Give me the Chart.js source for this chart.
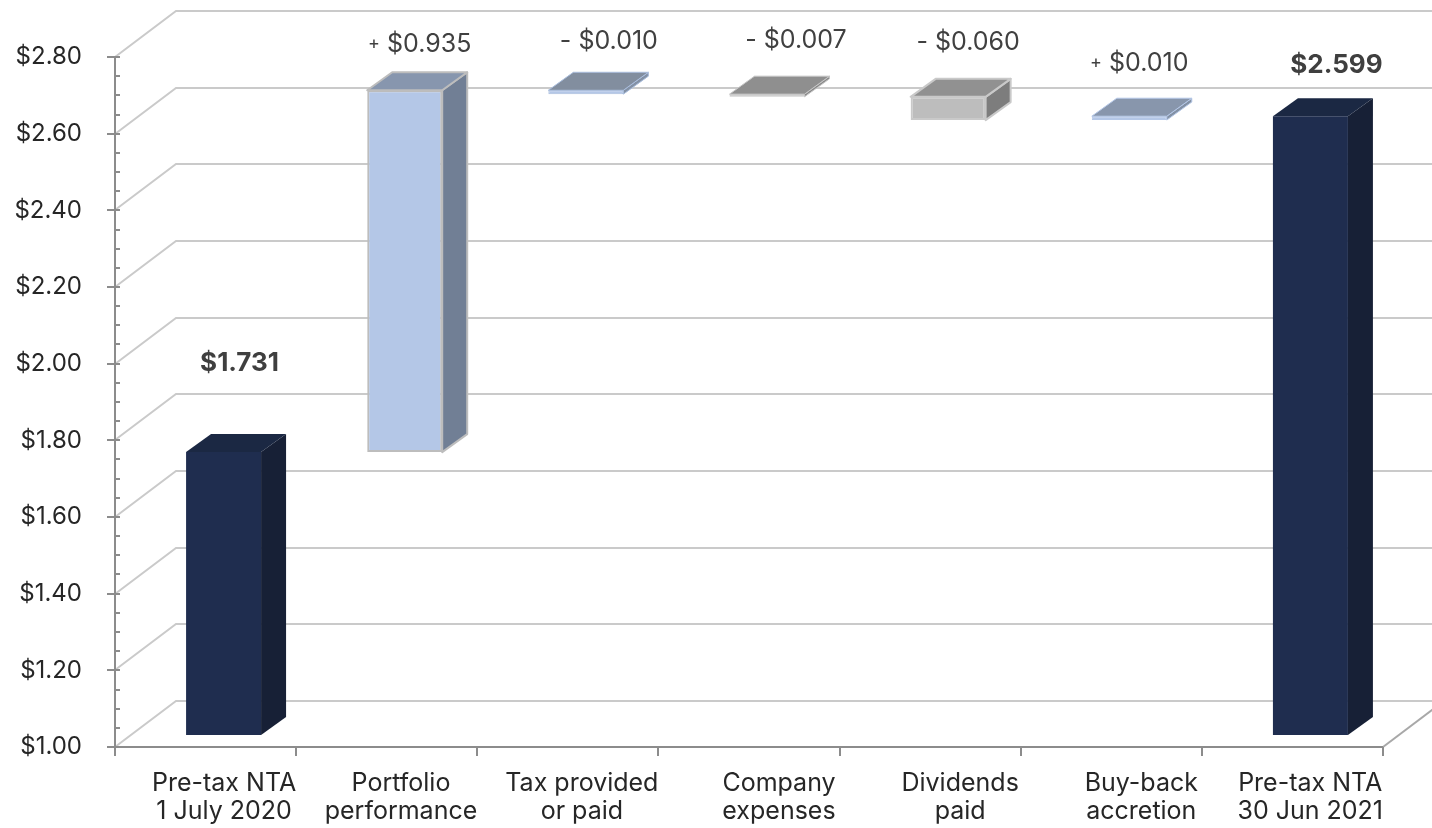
<!DOCTYPE html>
<html>
<head>
<meta charset="utf-8">
<title>Pre-tax NTA bridge</title>
<script src="https://cdn.jsdelivr.net/npm/chart.js@4.4.0/dist/chart.umd.min.js"></script>
<style>
  html, body { margin: 0; padding: 0; background: #ffffff; }
  #wrap { width: 1432px; height: 828px; }
</style>
</head>
<body>
<div id="wrap"><canvas id="ntaChart" width="1432" height="828"></canvas></div>
<script>
//////////////// data //////////////////
var categories = [
    ['Pre-tax NTA', '1 July 2020'],
    ['Portfolio', 'performance'],
    ['Tax provided', 'or paid'],
    ['Company', 'expenses'],
    ['Dividends', 'paid'],
    ['Buy-back', 'accretion'],
    ['Pre-tax NTA', '30 Jun 2021']
];
var movements   = [1.731, 0.935, -0.010, -0.007, -0.060, 0.010, 2.599];
var isTotal     = [true, false, false, false, false, false, true];
var valueLabels = ['$1.731', '+ $0.935', '- $0.010', '- $0.007', '- $0.060', '+ $0.010', '$2.599'];
var yMin = 1.00, yMax = 2.80, yStep = 0.20, yMinorStep = 0.05;

// floating [from, to] per bar from the running total
var ranges = [];
var running = 0;
for (var i = 0; i < movements.length; i++) {
    if (isTotal[i]) {
        ranges.push([yMin, movements[i]]);
        running = movements[i];
    } else {
        ranges.push([running, running + movements[i]]);
        running = running + movements[i];
    }
}

//////////////// look //////////////////
var faceFront = ['#1f2d4f', '#b4c7e7', '#b4c7e7', '#bfbfbf', '#bdbdbd', '#b4c7e7', '#1f2d4f'];
var faceSide  = ['#172036', '#717f95', '#8391a5', '#8a8a8a', '#7d7d7d', '#8391a5', '#172036'];
var faceTop   = ['#1b2843', '#8796ae', '#828e9f', '#8f8f8f', '#919191', '#8896ac', '#1b2843'];
var edge      = ['#1f2d4f', '#bdbdbd', '#a9bddd', '#c6c6c6', '#c9c9c9', '#b4c7e7', '#1f2d4f'];
var edgeWidth = [0, 2, 1, 1, 2, 1, 0];

var SHIFT = { x: 18, y: -12 };   // bars sit a little behind the front plane
var DEPTH = { x: 25, y: -18 };   // bar depth
var WALL  = { x: 61, y: -46 };   // back wall
var labelNudge = [[34, 89], [33, 46], [41, 49], [47, 54], [38, 54], [28, 53], [44, 51]];
var FONT = 'Inter, "Open Sans", sans-serif';

var box3d = {
    id: 'box3d',
    beforeDatasetsDraw: function (chart) {
        var ctx = chart.ctx, area = chart.chartArea, ys = chart.scales.y;
        var slot = (area.right - area.left) / categories.length;
        ctx.save();
        ctx.lineWidth = 2;
        ctx.strokeStyle = '#cacaca';
        // side wall diagonals + back wall grid
        for (var v = yMin; v <= yMax + 1e-9; v += yStep) {
            var py = Math.round(ys.getPixelForValue(v));
            ctx.beginPath();
            ctx.moveTo(area.left, py);
            ctx.lineTo(area.left + WALL.x, py + WALL.y);
            ctx.lineTo(chart.width, py + WALL.y);
            ctx.stroke();
        }
        // floor right edge
        ctx.strokeStyle = '#a8a8a8';
        ctx.beginPath();
        ctx.moveTo(area.right, area.bottom);
        ctx.lineTo(area.right + WALL.x, area.bottom + WALL.y);
        ctx.stroke();
        // axis lines
        ctx.strokeStyle = '#8c8c8c';
        ctx.beginPath();
        ctx.moveTo(area.left, area.top);
        ctx.lineTo(area.left, area.bottom);
        ctx.lineTo(area.right, area.bottom);
        ctx.stroke();
        // y ticks
        ctx.beginPath();
        for (var m = yMin; m <= yMax + 1e-9; m += yMinorStep) {
            var my = Math.round(ys.getPixelForValue(m));
            ctx.moveTo(area.left, my);
            ctx.lineTo(area.left + 5, my);
        }
        for (var v2 = yMin; v2 <= yMax + 1e-9; v2 += yStep) {
            var ty = Math.round(ys.getPixelForValue(v2));
            ctx.moveTo(area.left - 8, ty);
            ctx.lineTo(area.left, ty);
        }
        // x ticks
        for (var k = 0; k <= categories.length; k++) {
            var tx = Math.round(area.left + k * slot);
            ctx.moveTo(tx, area.bottom);
            ctx.lineTo(tx, area.bottom + 9);
        }
        ctx.stroke();
        ctx.restore();

        ctx.save();
        ctx.translate(SHIFT.x, SHIFT.y);
    },
    afterDatasetsDraw: function (chart) {
        var ctx = chart.ctx;
        var meta = chart.getDatasetMeta(0);
        meta.data.forEach(function (bar, i) {
            var p = bar.getProps(['x', 'y', 'base', 'width'], true);
            var l = p.x - p.width / 2, r = p.x + p.width / 2;
            var t = Math.min(p.y, p.base), b = Math.max(p.y, p.base);
            ctx.lineJoin = 'round';
            // right side
            ctx.beginPath();
            ctx.moveTo(r, t);
            ctx.lineTo(r + DEPTH.x, t + DEPTH.y);
            ctx.lineTo(r + DEPTH.x, b + DEPTH.y);
            ctx.lineTo(r, b);
            ctx.closePath();
            ctx.fillStyle = faceSide[i];
            ctx.fill();
            if (edgeWidth[i]) { ctx.lineWidth = edgeWidth[i]; ctx.strokeStyle = edge[i]; ctx.stroke(); }
            // top
            ctx.beginPath();
            ctx.moveTo(l, t);
            ctx.lineTo(l + DEPTH.x, t + DEPTH.y);
            ctx.lineTo(r + DEPTH.x, t + DEPTH.y);
            ctx.lineTo(r, t);
            ctx.closePath();
            ctx.fillStyle = faceTop[i];
            ctx.fill();
            if (edgeWidth[i]) { ctx.lineWidth = edgeWidth[i]; ctx.strokeStyle = edge[i]; ctx.stroke(); }
        });
        ctx.restore();
    },
    afterDraw: function (chart) {
        var ctx = chart.ctx, area = chart.chartArea, xs = chart.scales.x;
        var slot = (area.right - area.left) / categories.length;
        var meta = chart.getDatasetMeta(0);
        ctx.save();
        // category labels
        ctx.font = '25px ' + FONT;
        ctx.fillStyle = '#262626';
        ctx.textAlign = 'center';
        ctx.textBaseline = 'alphabetic';
        categories.forEach(function (lines, i) {
            var w = 0;
            lines.forEach(function (s) { w = Math.max(w, ctx.measureText(s).width); });
            var c = xs.getPixelForValue(i);
            var cx = c + 30;
            if (cx + w / 2 > c + slot / 2) cx = c + slot / 2 - w / 2;
            lines.forEach(function (s, k) {
                ctx.fillText(s, cx, area.bottom + 44 + k * 28);
            });
        });
        // value labels
        ctx.textBaseline = 'middle';
        ctx.textAlign = 'left';
        meta.data.forEach(function (bar, i) {
            var p = bar.getProps(['x', 'y', 'base'], true);
            var top = Math.min(p.y, p.base) + SHIFT.y;
            var cx = p.x + labelNudge[i][0];
            var cy = top - labelNudge[i][1];
            var txt = valueLabels[i];
            if (isTotal[i]) {
                ctx.font = 'bold 26px ' + FONT;
                ctx.fillStyle = '#3f3f3f';
                var wb = ctx.measureText(txt).width;
                ctx.fillText(txt, cx - wb / 2, cy);
                return;
            }
            ctx.fillStyle = '#404040';
            var sign = txt.charAt(0);
            var rest = txt.slice(1);
            var signFont = sign === '+' ? '18px ' + FONT : '25px ' + FONT;
            ctx.font = signFont;
            var ws = ctx.measureText(sign).width;
            ctx.font = '25px ' + FONT;
            var wr = ctx.measureText(rest).width;
            var x0 = cx - (ws + wr) / 2;
            ctx.font = signFont;
            ctx.fillText(sign, x0, cy - (sign === '+' ? 1 : 0));
            ctx.font = '25px ' + FONT;
            ctx.fillText(rest, x0 + ws, cy);
        });
        ctx.restore();
    }
};

var ntaChart = new Chart(document.getElementById('ntaChart'), {
    type: 'bar',
    data: {
        labels: categories,
        datasets: [{
            data: ranges,
            backgroundColor: faceFront,
            borderColor: edge,
            borderWidth: edgeWidth,
            borderSkipped: false,
            barPercentage: 0.414,
            categoryPercentage: 1,
            yAxisID: 'yb',
            clip: false
        }]
    },
    options: {
        responsive: false,
        animation: false,
        layout: { padding: { top: 57, right: 49, left: 0, bottom: 0 } },
        plugins: { legend: { display: false }, tooltip: { enabled: false } },
        scales: {
            x: {
                offset: true,
                grid: { display: false, drawTicks: false },
                border: { display: false },
                ticks: { display: false },
                afterFit: function (s) { s.height = 81; }
            },
            y: {
                min: yMin,
                max: yMax,
                grid: { display: false, drawTicks: false },
                border: { display: false },
                ticks: {
                    stepSize: yStep,
                    padding: 33,
                    color: '#262626',
                    font: { family: FONT, size: 24 },
                    callback: function (v) { return '$' + Number(v).toFixed(2); }
                },
                afterFit: function (s) { s.width = 115; }
            },
            // bars drawn in the slightly nearer bar plane of the 3D view
            yb: { display: false, min: yMin, max: 2.783 }
        }
    },
    plugins: [box3d]
});
</script>
</body>
</html>
